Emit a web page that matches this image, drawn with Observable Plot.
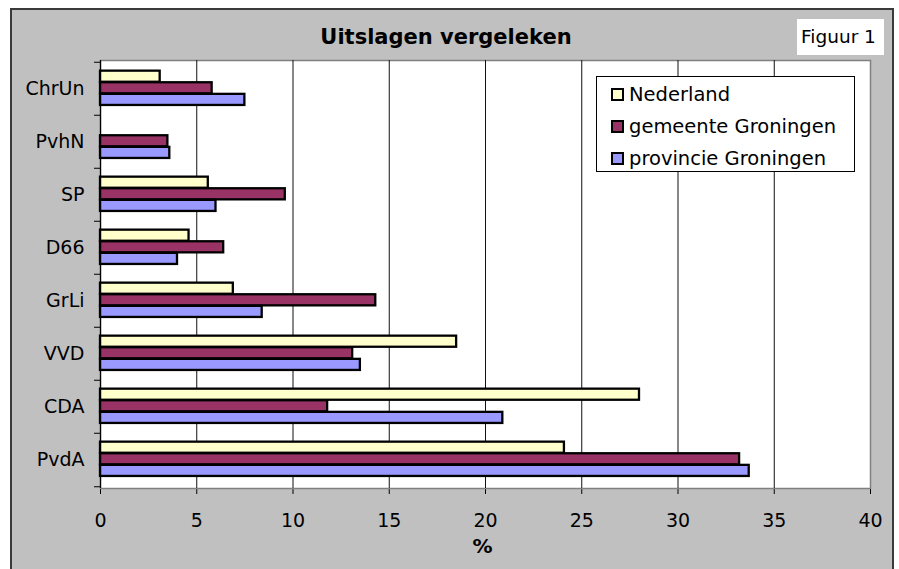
<!DOCTYPE html>
<html>
<head>
<meta charset="utf-8">
<script src="https://cdn.jsdelivr.net/npm/d3@7"></script>
<script src="https://cdn.jsdelivr.net/npm/@observablehq/plot@0.6"></script>
<style>
  html, body { margin: 0; padding: 0; background: white; overflow: hidden; }
  #wrap { position: relative; width: 899px; height: 569px; font-family: "DejaVu Sans", Verdana, sans-serif; }
  #panel { position: absolute; left: 10px; top: 8px; width: 884px; height: 600px; background: #C0C0C0; border: 2px solid #3a3a3a; box-sizing: border-box; }
  #chart { position: absolute; left: 0; top: 0; }
  #title { position: absolute; left: 0; top: 25px; width: 892px; text-align: center; font-weight: bold; font-size: 21px; color: #000; }
  #fig { position: absolute; left: 797px; top: 19px; width: 87px; height: 36px; background: white; font-size: 18.5px; line-height: 36px; padding-left: 4px; box-sizing: border-box; color: #000; }
  #legend { position: absolute; left: 596px; top: 76px; width: 259px; height: 96px; background: white; border: 1px solid #000; box-sizing: border-box; }
  .item { position: absolute; left: 14px; height: 22px; display: flex; align-items: center; font-size: 19.5px; color: #000; }
  .sw { width: 13px; height: 13px; border: 2px solid #000; box-sizing: border-box; margin-right: 5px; }
</style>
</head>
<body>
<div id="wrap">
  <div id="panel"></div>
  <div id="chart"></div>
  <div id="title">Uitslagen vergeleken</div>
  <div id="fig">Figuur 1</div>
  <div id="legend"></div>
</div>
<script>
// Data (percentages)
const parties = ["ChrUn", "PvhN", "SP", "D66", "GrLi", "VVD", "CDA", "PvdA"];
const seriesNames = ["Nederland", "gemeente Groningen", "provincie Groningen"];
const seriesColors = ["#FFFFCC", "#993366", "#9999FF"];
const nederland = [3.1, 0, 5.6, 4.6, 6.9, 18.5, 28.0, 24.1];
const gemeente  = [5.8, 3.5, 9.6, 6.4, 14.3, 13.1, 11.8, 33.2];
const provincie = [7.5, 3.6, 6.0, 4.0, 8.4, 13.5, 20.9, 33.7];
const xTicks = [0, 5, 10, 15, 20, 25, 30, 35, 40];
const xLabel = "%";

const seriesValues = [nederland, gemeente, provincie];
const rows = seriesNames.map((s, k) =>
  parties.map((p, i) => ({party: p, series: s, value: seriesValues[k][i]})).filter(d => d.value > 0)
);

const W = 899, H = 569, mL = 100, mR = 29, mT = 60, mB = 81;
const step = (H - mT - mB) / parties.length;
const barH = 11.6;
const inset = (step - barH) / 2;
const offsets = [-barH - 0.7, -0.7, barH - 0.7];

const font = '"DejaVu Sans", Verdana, sans-serif';

const chart = Plot.plot({
  width: W,
  height: H,
  marginLeft: mL,
  marginRight: mR,
  marginTop: mT,
  marginBottom: mB,
  style: {background: "transparent", fontFamily: font, fontSize: "19px", color: "#000", overflow: "visible"},
  x: {domain: [0, 40], ticks: xTicks, tickSize: 6, tickPadding: 19, line: true, label: null},
  y: {domain: parties, padding: 0, tickSize: 0, tickPadding: 16, label: null},
  marks: [
    Plot.frame({fill: "white", stroke: "#808080", strokeWidth: 1.5}),
    Plot.ruleX(xTicks.filter(t => t > 0 && t < 40), {stroke: "#111", strokeWidth: 1}),
    ...rows.map((data, k) => Plot.barX(data, {
      x: "value", y: "party",
      fill: seriesColors[k], stroke: "#000", strokeWidth: 2.3,
      insetTop: inset, insetBottom: inset, dy: offsets[k]
    })),
    Plot.ruleX([0], {stroke: "#000", strokeWidth: 1.2}),
    Plot.ruleY(parties, {y: d => d, dy: -step / 2, x1: 0, x2: 0, insetLeft: -6, stroke: "#000"}),
    Plot.ruleY([parties[parties.length - 1]], {y: d => d, dy: step / 2, x1: 0, x2: 0, insetLeft: -6, stroke: "#000"}),
    Plot.text([xLabel], {text: d => d, frameAnchor: "bottom", dy: 58, dx: -3, fontWeight: "bold", fontSize: 20, lineAnchor: "middle", fill: "#000"})
  ]
});
document.getElementById("chart").appendChild(chart);

// Legend built from the series arrays
const legend = document.getElementById("legend");
const itemTops = [6, 38, 70];
seriesNames.forEach((s, k) => {
  const it = document.createElement("div");
  it.className = "item";
  it.style.top = itemTops[k] + "px";
  const sw = document.createElement("div");
  sw.className = "sw";
  sw.style.background = seriesColors[k];
  const tx = document.createElement("span");
  tx.textContent = s;
  it.appendChild(sw);
  it.appendChild(tx);
  legend.appendChild(it);
});
</script>
</body>
</html>
